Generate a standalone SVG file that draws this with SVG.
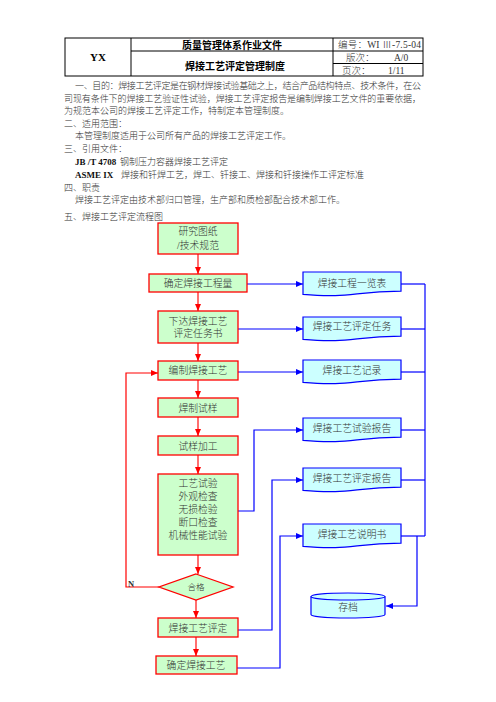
<svg xmlns="http://www.w3.org/2000/svg" width="496" height="702" viewBox="0 0 496 702">
<style>
.t{font-family:"Liberation Serif","Noto Sans CJK SC",serif;font-size:9px;font-weight:300;fill:#333}
.b{font-weight:bold;fill:#111}
.h{font-family:"Liberation Serif","Noto Sans CJK SC",serif;font-size:10px;font-weight:bold;fill:#000;text-anchor:middle}
.hr{font-family:"Liberation Serif","Noto Sans CJK SC",serif;font-size:9.5px;font-weight:300;fill:#333}
.g{fill:#ccffcc;stroke:#ff0000;stroke-width:1.3}
.d{fill:#ccffff;stroke:#0000ff;stroke-width:1.2}
.n{font-family:"Liberation Serif","Noto Sans CJK SC",serif;font-size:9.8px;font-weight:300;fill:#333;text-anchor:middle}
.ra{fill:none;stroke:#ff6060;stroke-width:1.8;marker-end:url(#mr)}
.rl{fill:none;stroke:#ff0000;stroke-width:1.2}
.bl{fill:none;stroke:#0000ff;stroke-width:1.2}
.ba{fill:none;stroke:#0000ff;stroke-width:1.2;marker-end:url(#mb)}
</style>
<defs>
<marker id="mr" markerWidth="7" markerHeight="6" refX="7" refY="3" orient="auto" markerUnits="userSpaceOnUse"><path d="M0,0 L7,3 L0,6 Z" fill="#ff0000"/></marker>
<marker id="mb" markerWidth="7" markerHeight="6" refX="7" refY="3" orient="auto" markerUnits="userSpaceOnUse"><path d="M0,0 L7,3 L0,6 Z" fill="#0000ff"/></marker>
<marker id="mr2" markerWidth="7" markerHeight="6" refX="7" refY="3" orient="auto" markerUnits="userSpaceOnUse"><path d="M0,0 L7,3 L0,6 Z" fill="#ff0000"/></marker>
</defs>
<rect width="496" height="702" fill="#ffffff"/>

<g id="header">
<rect x="65" y="38" width="358" height="38" fill="none" stroke="#000" stroke-width="1"/>
<line x1="131" y1="38" x2="131" y2="76" stroke="#000" stroke-width="1"/>
<line x1="333" y1="38" x2="333" y2="76" stroke="#000" stroke-width="1"/>
<line x1="131" y1="51" x2="423" y2="51" stroke="#000" stroke-width="1"/>
<line x1="333" y1="63.5" x2="423" y2="63.5" stroke="#000" stroke-width="1"/>
<text class="h" x="98" y="61" style="font-size:11px">YX</text>
<text class="h" x="232" y="48.5">质量管理体系作业文件</text>
<text class="h" x="235" y="70">焊接工艺评定管理制度</text>
<text class="hr" x="338" y="48" textLength="83" lengthAdjust="spacing">编号：WI Ⅲ-7.5-04</text>
<text class="hr" x="346" y="60.5">版次：</text>
<text class="hr b" x="394" y="60.5">A/0</text>
<text class="hr" x="342" y="73.5">页次：</text>
<text class="hr b" x="388" y="73.5">1/11</text>
</g>

<g id="body">
<text class="t" x="75" y="89" textLength="346" lengthAdjust="spacing">一、目的：焊接工艺评定是在钢材焊接试验基础之上，结合产品结构特点、技术条件，在公</text>
<text class="t" x="64" y="101.5" textLength="357" lengthAdjust="spacing">司现有条件下的焊接工艺验证性试验，焊接工艺评定报告是编制焊接工艺文件的重要依据，</text>
<text class="t" x="64" y="114">为规范本公司的焊接工艺评定工作，特制定本管理制度。</text>
<text class="t" x="64" y="126.5">二、适用范围：</text>
<text class="t" x="75" y="139">本管理制度适用于公司所有产品的焊接工艺评定工作。</text>
<text class="t" x="64" y="151.5">三、引用文件：</text>
<text class="t" x="75" y="164.5"><tspan class="b">JB /T 4708</tspan><tspan x="120">钢制压力容器焊接工艺评定</tspan></text>
<text class="t" x="75" y="177.5"><tspan class="b">ASME IX</tspan><tspan x="121">焊接和钎焊工艺，焊工、钎接工、焊接和钎接操作工评定标准</tspan></text>
<text class="t" x="64" y="190.5">四、职责</text>
<text class="t" x="75" y="203">焊接工艺评定由技术部归口管理，生产部和质检部配合技术部工作。</text>
<text class="t" x="64" y="219.5">五、焊接工艺评定流程图</text>
</g>

<g id="connectors">
<line class="ra" x1="198" y1="254" x2="198" y2="274"/>
<line class="ra" x1="198" y1="292" x2="198" y2="311"/>
<line class="ra" x1="198" y1="343" x2="198" y2="361"/>
<line class="ra" x1="198" y1="380" x2="198" y2="398"/>
<line class="ra" x1="198" y1="417" x2="198" y2="436"/>
<line class="ra" x1="198" y1="455" x2="198" y2="474"/>
<line class="ra" x1="198" y1="555" x2="198" y2="574"/>
<line class="ra" x1="196" y1="600" x2="196" y2="618"/>
<line class="ra" x1="196" y1="637" x2="196" y2="656"/>
<polyline class="rl" points="159,587 126,587 126,373 158,373" marker-end="url(#mr2)"/>
<line class="ba" x1="247" y1="284" x2="303" y2="284"/>
<line class="ba" x1="238" y1="329" x2="303" y2="329"/>
<line class="ba" x1="238" y1="372" x2="303" y2="372"/>
<polyline class="ba" points="238,511 254,511 254,430 303,430"/>
<polyline class="ba" points="238,630 272,630 272,480 303,480"/>
<polyline class="ba" points="237,668 280,668 280,536 303,536"/>
<polyline class="bl" points="401,284 425,284"/>
<polyline class="bl" points="401,329 425,329"/>
<polyline class="bl" points="401,372 425,372"/>
<polyline class="bl" points="401,430 425,430"/>
<polyline class="bl" points="401,480 425,480"/>
<polyline class="bl" points="401,536 425,536"/>
<line class="bl" x1="425" y1="284" x2="425" y2="536"/>
<polyline class="ba" points="417,536 417,606 386,606"/>
<text class="t" x="128" y="587" style="font-size:8.5px;font-weight:bold">N</text>
</g>

<g id="n1"><rect class="g" x="158" y="223" width="80" height="31"/><text class="n" x="198" y="235">研究图纸</text><text class="n" x="198" y="249">/技术规范</text></g>
<g id="n2"><rect class="g" x="149" y="274" width="98" height="18"/><text class="n" x="198" y="286.5">确定焊接工程量</text></g>
<g id="n3"><rect class="g" x="158" y="311" width="80" height="32"/><text class="n" x="198" y="324.5">下达焊接工艺</text><text class="n" x="198" y="337">评定任务书</text></g>
<g id="n4"><rect class="g" x="158" y="361" width="80" height="19"/><text class="n" x="198" y="374">编制焊接工艺</text></g>
<g id="n5"><rect class="g" x="158" y="398" width="80" height="19"/><text class="n" x="198" y="411.5">焊制试样</text></g>
<g id="n6"><rect class="g" x="158" y="436" width="80" height="19"/><text class="n" x="198" y="449.5">试样加工</text></g>
<g id="n7"><rect class="g" x="158" y="474" width="80" height="81"/>
<text class="n" x="198" y="487">工艺试验</text><text class="n" x="198" y="500">外观检查</text><text class="n" x="198" y="513">无损检验</text><text class="n" x="198" y="526">断口检查</text><text class="n" x="198" y="539">机械性能试验</text></g>
<g id="n8"><polygon class="g" points="196,574 233,587 196,600 159,587"/><text class="n" x="196" y="590" style="font-size:8.5px">合格</text></g>
<g id="n9"><rect class="g" x="158" y="618" width="80" height="19"/><text class="n" x="198" y="631.5">焊接工艺评定</text></g>
<g id="n10"><rect class="g" x="156" y="656" width="81" height="18"/><text class="n" x="196" y="668.5">确定焊接工艺</text></g>

<g id="d1"><path class="d" d="M303,272 H401 V291.2 C352,291.2 352,298.6 303,294.4 Z"/><text class="n" x="352" y="286.5">焊接工程一览表</text></g>
<g id="d2"><path class="d" d="M303,317 H401 V336.2 C352,336.2 352,343.6 303,339.4 Z"/><text class="n" x="352" y="330">焊接工艺评定任务</text></g>
<g id="d3"><path class="d" d="M303,360 H401 V379.2 C352,379.2 352,386.6 303,382.4 Z"/><text class="n" x="352" y="374">焊接工艺记录</text></g>
<g id="d4"><path class="d" d="M303,418 H401 V437.2 C352,437.2 352,444.6 303,440.4 Z"/><text class="n" x="352" y="431.5">焊接工艺试验报告</text></g>
<g id="d5"><path class="d" d="M303,468 H401 V487.2 C352,487.2 352,494.6 303,490.4 Z"/><text class="n" x="352" y="481.5">焊接工艺评定报告</text></g>
<g id="d6"><path class="d" d="M303,524 H401 V543.2 C352,543.2 352,550.6 303,546.4 Z"/><text class="n" x="352" y="537.5">焊接工艺说明书</text></g>
<g id="d7"><path class="d" d="M311,596.5 A37,3.5 0 0,1 385,596.5 V614.5 A37,3.5 0 0,1 311,614.5 Z"/><path d="M311,596.5 A37,3.5 0 0,0 385,596.5" fill="none" stroke="#0000ff" stroke-width="1.2"/><text class="n" x="348" y="611">存档</text></g>
</svg>
